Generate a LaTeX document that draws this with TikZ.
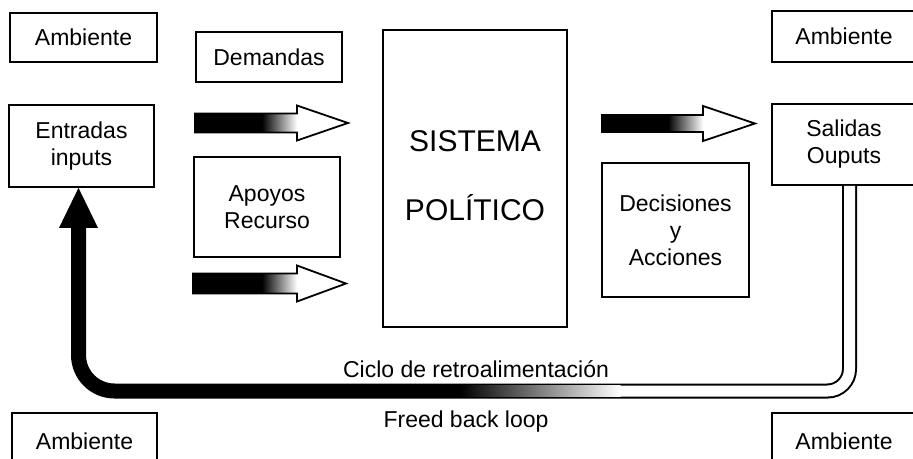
\documentclass[tikz,border=0pt]{standalone}
\usepackage{fontspec}
\setmainfont{Liberation Sans}
\newcommand{\blockarr}[7]{%
  \fill[black] ({#1},{#5-#6}) rectangle ({#2},{#5+#6});
  \shade[left color=black,right color=white] ({#2},{#5-#6}) rectangle ({#3},{#5+#6});
  \fill[white] ({#3},{#5-#7}) -- ({#4},{#5}) -- ({#3},{#5+#7}) -- cycle;
  \draw[arrline] ({#3},{#5-#6}) -- ({#1},{#5-#6}) -- ({#1},{#5+#6}) -- ({#3},{#5+#6})
     -- ({#3},{#5+#7}) -- ({#4},{#5}) -- ({#3},{#5-#7}) -- cycle;
}
\begin{document}
\begin{tikzpicture}[x=1pt,y=-1pt,
  box/.style={draw, line width=1.8pt, inner sep=0pt, align=center,
    font=\fontsize{23}{27}\selectfont},
  lbl/.style={inner sep=0pt, font=\fontsize{23}{27}\selectfont, anchor=base},
  bigtxt/.style={inner sep=0pt, font=\fontsize{30}{36}\selectfont, anchor=base},
  arrline/.style={line width=1.8pt, line join=miter}]
\useasboundingbox (0,0) rectangle (913,458);
\fill[white] (0,0) rectangle (913,458);

% boxes
\node[box, minimum width=147pt, minimum height=49pt] (ambTL) at (83.5,37.5) {Ambiente};
\node[box, minimum width=146pt, minimum height=50pt] (dem) at (269,57) {Demandas};
\node[box, minimum width=145pt, minimum height=82pt] (ent) at (81.5,146) {Entradas\\inputs};
\node[box, minimum width=146pt, minimum height=100pt] (apo) at (267,207) {Apoyos\\Recurso};
\node[box, minimum width=184pt, minimum height=297pt] (sis) at (475,178.5) {};
\node[bigtxt] (sisA) at (475,151) {SISTEMA};
\node[bigtxt] (sisB) at (475,220) {POLÍTICO};
\node[box, minimum width=147pt, minimum height=134pt] (dec) at (675.5,230) {Decisiones\\y\\Acciones};
\node[box, minimum width=144pt, minimum height=51pt] (ambTR) at (844,36.5) {Ambiente};
\node[box, minimum width=144pt, minimum height=81pt] (sal) at (844,144.5) {Salidas\\Ouputs};
\node[box, minimum width=145pt, minimum height=57pt] (ambBL) at (84.5,441.5) {Ambiente};
\node[box, minimum width=144pt, minimum height=57pt] (ambBR) at (844,441.5) {Ambiente};

% block arrows
\blockarr{195}{262}{297}{348}{123}{9.5}{17.5}
\blockarr{193}{262}{297}{346}{283.5}{10}{18}
\blockarr{602}{668}{703}{755}{123.5}{8.5}{17.5}

% feedback loop
\coordinate (fbA) at ([xshift=5.5pt]sal.south);
\coordinate (fbTip) at ([xshift=-3pt]ent.south);
\draw[line width=15pt, black] (fbA) -- (849.5,369) arc[start angle=0,end angle=90,radius=22]
  -- (114.5,391) arc[start angle=90,end angle=180,radius=36] -- (78.5,228);
\draw[line width=11pt, white] (fbA) -- (849.5,369) arc[start angle=0,end angle=90,radius=22]
  -- (620,391);
\shade[left color=black,right color=white] (460,385.5) rectangle (620.5,396.5);
\fill[black] (fbTip) -- ++(-19.5,40) -- ++(39,0) -- cycle;

% labels
\node[lbl] (ciclo) at (476,377) {Ciclo de retroalimentación};
\node[lbl] (freed) at (466,427) {Freed back loop};
\end{tikzpicture}
\end{document}
